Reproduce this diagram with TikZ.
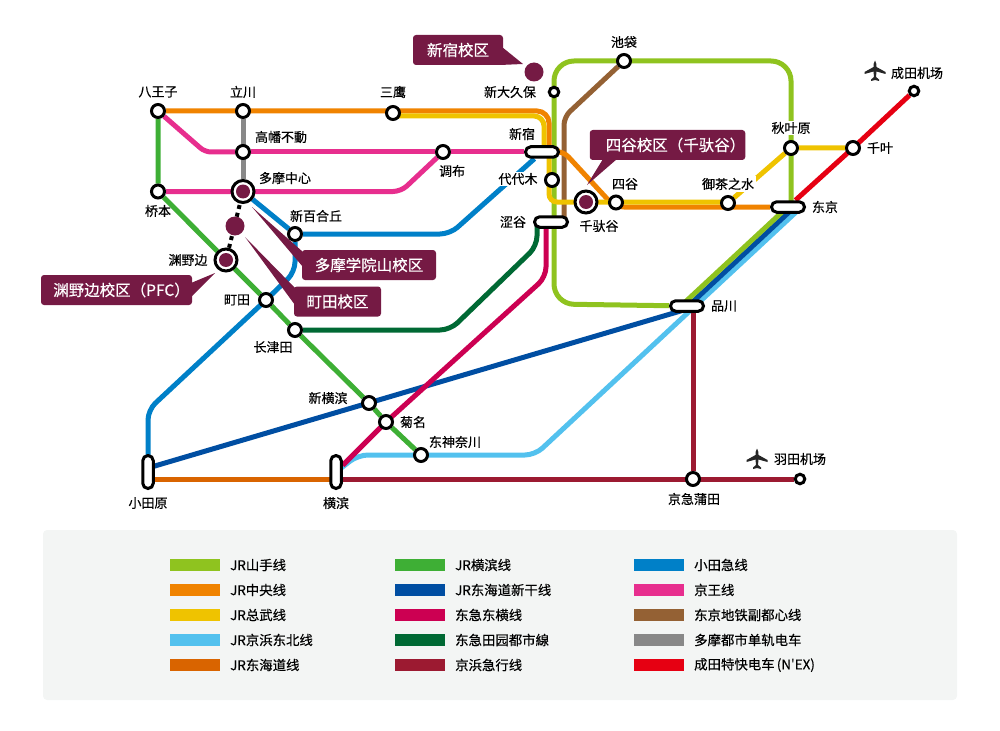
\documentclass[tikz,border=0pt]{standalone}
\usepackage{fontspec}
\setmainfont[FakeBold=0.4]{Noto Sans CJK SC}
\newfontfamily\plainfam{Noto Sans CJK SC}
\usepackage{xcolor}
\usepackage{tikz}
\usetikzlibrary{positioning}
\definecolor{cYama}{HTML}{8FC31F}
\definecolor{cChuo}{HTML}{F08300}
\definecolor{cSobu}{HTML}{EFC300}
\definecolor{cKeihin}{HTML}{53C1EE}
\definecolor{cTokai}{HTML}{D96400}
\definecolor{cYoko}{HTML}{3EAF35}
\definecolor{cShin}{HTML}{004EA2}
\definecolor{cToyo}{HTML}{CC0052}
\definecolor{cDen}{HTML}{006934}
\definecolor{cKeikyu}{HTML}{9C1A31}
\definecolor{cOda}{HTML}{0080C8}
\definecolor{cKeio}{HTML}{E72E8E}
\definecolor{cFuku}{HTML}{946134}
\definecolor{cMono}{HTML}{888888}
\definecolor{cNex}{HTML}{E60012}
\definecolor{cCampus}{HTML}{751A44}
\definecolor{cPanel}{HTML}{F3F5F4}
\pgfdeclarelayer{lines}
\pgfsetlayers{lines,main}
\tikzset{
	stn/.style={circle, draw=black, fill=white, line width=3pt, inner sep=0pt, minimum size=13pt},
	stnsmall/.style={circle, draw=black, fill=white, line width=3pt, inner sep=0pt, minimum size=9.5pt},
	stnbig/.style={circle, draw=black, fill=white, line width=3pt, inner sep=0pt, minimum size=22pt},
	pillh/.style={rectangle, rounded corners=5.2pt, draw=black, fill=white, line width=3pt, inner sep=0pt, minimum width=33pt, minimum height=10.5pt},
	pillv/.style={rectangle, rounded corners=5.2pt, draw=black, fill=white, line width=3pt, inner sep=0pt, minimum width=10.5pt, minimum height=33pt},
	campdot/.style={circle, fill=cCampus, inner sep=0pt},
	lbl/.style={inner sep=0pt, text=black, font=\fontsize{13}{13}\selectfont},
	lblw/.style={lbl, fill=white, inner sep=1.5pt},
	campbox/.style={rectangle, rounded corners=3pt, fill=cCampus, text=white, inner sep=0pt, font=\fontsize{15.5}{15.5}\selectfont},
	line/.style={line width=5pt},
	swatch/.style={rectangle, inner sep=0pt, minimum width=50pt, minimum height=12pt},
	keytxt/.style={anchor=west, inner sep=0pt, text=black, font=\fontsize{13.4}{13.4}\selectfont},
	plane/.pic={
		\fill[fill=black!85] (0,-10.5) .. controls (1.6,-8) and (1.5,-6) .. (1.5,-4) -- (10.5,1) -- (10.5,3) -- (1.5,0.5) -- (1,6) -- (4,8.5) -- (4,10) -- (0,9) -- (-4,10) -- (-4,8.5) -- (-1,6) -- (-1.5,0.5) -- (-10.5,3) -- (-10.5,1) -- (-1.5,-4) .. controls (-1.5,-6) and (-1.6,-8) .. (0,-10.5) -- cycle;
	}
}

\begin{document}
\begin{tikzpicture}[x=1pt, y=-1pt]
	\useasboundingbox (0,0) rectangle (1000,730);
	%stations
	\node[stn] at (158,111) (hachi) {};
	\node[stn] at (243,111) (tachi) {};
	\node[stn] at (393,113) (mitaka) {};
	\node[stn] at (243,152) (takahata) {};
	\node[stn] at (443,152) (chofu) {};
	\node[stn] at (158,191.5) (hashi) {};
	\node[stnbig] at (243,191.5) (tama) {};
	\node[stn] at (295,234) (yuri) {};
	\node[stnbig] at (226,260) (fuchi) {};
	\node[stn] at (266,300) (machi) {};
	\node[stn] at (295,330) (naga) {};
	\node[stn] at (369,403) (shinyoko) {};
	\node[stn] at (386,422) (kiku) {};
	\node[stn] at (421,455) (higashi) {};
	\node[stn] at (693,479) (kamata) {};
	\node[stnsmall] at (800,479) (haneda) {};
	\node[stn] at (853,148) (chiba) {};
	\node[stnsmall] at (914,91) (narita) {};
	\node[stn] at (791,148) (akiha) {};
	\node[stn] at (728,203) (ocha) {};
	\node[stn] at (616,202.5) (yotsu) {};
	\node[stnbig] at (586,202) (sendaga) {};
	\node[stn] at (552,180) (yoyogi) {};
	\node[stnsmall] at (554,92) (okubo) {};
	\node[stn] at (624,61) (ike) {};
	\node[pillv] at (148,472) (odawara) {};
	\node[pillv] at (336,472) (yokohama) {};
	\node[pillh] at (542,152) (shinjuku) {};
	\node[pillh] at (551,222) (shibuya) {};
	\node[pillh] at (788,207) (tokyo) {};
	\node[pillh] at (687,306) (shinagawa) {};
	
	\node[campdot, minimum size=14pt] at (tama) (tamadot) {};
	\node[campdot, minimum size=14pt] at (fuchi) (fuchidot) {};
	\node[campdot, minimum size=14pt] at (sendaga) (sendot) {};
	\node[campdot, minimum size=19pt] at (235,226) (machidot) {};
	\node[campdot, minimum size=19pt] at (534,72) (shindot) {};
	
	%bends
	\coordinate (ymA) at (791,207);
	\coordinate (ymB) at (791,61);
	\coordinate (ymC) at (554,61);
	\coordinate (ymD) at (554,304);
	\coordinate (ymE) at (682,305);
	\coordinate (ymF) at (787.5,207);
	\coordinate (chA) at (549,111);
	\coordinate (chB) at (549,152);
	\coordinate (chC) at (563,151);
	\coordinate (chD) at (611,203);
	\coordinate (chE) at (616,207);
	\coordinate (soA) at (393,116);
	\coordinate (soB) at (544,116);
	\coordinate (soC) at (544,152);
	\coordinate (soD) at (549,152);
	\coordinate (soE) at (549,202);
	\coordinate (soF) at (728,202);
	\coordinate (kbA) at (336,472);
	\coordinate (kbB) at (358,455);
	\coordinate (kbC) at (535,455);
	\coordinate (kbD) at (801.5,207);
	\coordinate (snA) at (794.5,207);
	\coordinate (snB) at (684,310);
	\coordinate (snC) at (148,468);
	\coordinate (toA) at (546,222);
	\coordinate (toB) at (546,277);
	\coordinate (deA) at (537,222);
	\coordinate (deB) at (537,246);
	\coordinate (deC) at (450,330);
	\coordinate (fuA) at (564,117);
	\coordinate (fuB) at (564,222);
	\coordinate (odA) at (450,234);
	\coordinate (odB) at (295,272);
	\coordinate (odC) at (148,410);
	\coordinate (odD) at (148,472);
	\coordinate (keA) at (205,152);
	\coordinate (keB) at (401,191.5);
	\coordinate (kkA) at (693,306);
	\coordinate (ttA) at (148,479);
	\coordinate (ttB) at (336,479);
	
	%lines
	\begin{pgfonlayer}{lines}
		\draw[line, cFuku, rounded corners=8pt] (ike) -- (fuA) -- (fuB);
		\draw[line, cYama, rounded corners=20pt] (ymA) -- (ymB) -- (ymC) -- (ymD) -- (shinagawa);
		\draw[line, cKeihin, rounded corners=10pt] (kbA) -- (kbB) -- (kbC) -- (kbD);
		\draw[line, cShin] (snA) -- (snB) -- (snC);
		\draw[line, cYama] (ymF) -- (ymE);
		\draw[line, cMono] (tachi) -- (tama);
		\draw[line, cYoko] (hachi) -- (hashi) -- (fuchi) -- (machi) -- (naga) -- (shinyoko) -- (kiku) -- (higashi);
		\draw[line, cOda] (tama) -- (yuri);
		\draw[line, cOda, rounded corners=10pt] (shinjuku) -- (odA) -- (yuri);
		\draw[line, cOda, rounded corners=10pt] (yuri) -- (odB) -- (machi.center) -- (odC) -- (odD);
		\draw[line, cKeio, rounded corners=6pt] (hachi) -- (keA) -- (takahata);
		\draw[line, cKeio] (takahata) -- (chofu) -- (shinjuku);
		\draw[line, cKeio, rounded corners=8pt] (hashi) -- (keB) -- (chofu);
		\draw[line, cDen, rounded corners=10pt] (deA) -- (deB) -- (deC) -- (naga);
		\draw[line, cToyo, rounded corners=10pt] (toA) -- (toB) -- (kiku.center) -- (yokohama);
		\draw[line, cTokai] (ttA) -- (ttB);
		\draw[line, cKeikyu] (ttB) -- (kamata.center) -- (haneda);
		\draw[line, cKeikyu] (kkA) -- (kamata);
		\draw[line, cNex] (tokyo) -- (chiba.center) -- (narita);
		\draw[line, cChuo, rounded corners=12pt] (hachi) -- (chA) -- (chB);
		\draw[line, cSobu, rounded corners=10pt] (soA) -- (soB) -- (soC);
		\draw[line, cChuo, rounded corners=8pt] (shinjuku) -- (chC) -- (chD) -- (chE) -- (tokyo);
		\draw[line, cSobu, rounded corners=8pt] (soD) -- (soE) -- (soF);
		\draw[line, cSobu] (ocha) -- (akiha) -- (chiba);
		\draw[line width=4pt, black, dash pattern=on 4pt off 4pt, dash phase=6.5pt] (tama) -- (fuchi);
	\end{pgfonlayer}
	
	%station labels
	\node[lbl] at (158,92) (tHachi) {八王子};
	\node[lbl] at (243,92) (tTachi) {立川};
	\node[lbl] at (393,92) (tMitaka) {三鹰};
	\node[lbl] at (281,137) (tTaka) {高幡不動};
	\node[lbl] at (452,171) (tChofu) {调布};
	\node[lbl] at (285,178) (tTama) {多摩中心};
	\node[lbl] at (158,211) (tHashi) {桥本};
	\node[lbl] at (316,216) (tYuri) {新百合丘};
	\node[lbl] at (188,260) (tFuchi) {渊野边};
	\node[lbl] at (237,300) (tMachi) {町田};
	\node[lbl] at (273,347) (tNaga) {长津田};
	\node[lbl] at (328,398) (tShinyoko) {新横滨};
	\node[lbl] at (413,422) (tKiku) {菊名};
	\node[lbl] at (455,442) (tHigashi) {东神奈川};
	\node[lbl] at (148,503) (tOdawara) {小田原};
	\node[lbl] at (336,503) (tYokohama) {横滨};
	\node[lbl] at (694,499) (tKamata) {京急蒲田};
	\node[lbl] at (800,459) (tHaneda) {羽田机场};
	\node[lbl] at (724,306) (tShinagawa) {品川};
	\node[lbl] at (825,207) (tTokyo) {东京};
	\node[lbl] at (880,148) (tChiba) {千叶};
	\node[lbl] at (917,73) (tNarita) {成田机场};
	\node[lblw] at (791,128) (tAkiha) {秋叶原};
	\node[lblw] at (728,184) (tOcha) {御茶之水};
	\node[lbl] at (625,184) (tYotsu) {四谷};
	\node[lbl] at (599,226) (tSenda) {千驮谷};
	\node[lblw] at (518,179) (tYoyogi) {代代木};
	\node[lbl] at (522,134) (tShinjuku) {新宿};
	\node[lbl] at (513,222) (tShibuya) {涩谷};
	\node[lbl] at (510,92) (tOkubo) {新大久保};
	\node[lbl] at (624,42) (tIke) {池袋};
	
	\pic at (875,71) {plane};
	\pic at (757,459) {plane};
	
	%campus boxes
	\fill[cCampus] (502,47) -- (523,64) -- (500,65) -- cycle;
	\fill[cCampus] (603,159) -- (617,159) -- (587,185) -- cycle;
	\fill[cCampus] (252,207) -- (303,252) -- (303,267) -- cycle;
	\fill[cCampus] (245,237) -- (295,288) -- (295,305) -- cycle;
	\fill[cCampus] (191,283) -- (215,273) -- (191,297) -- cycle;
	\node[campbox, minimum width=90pt, minimum height=30pt] at (458,50) (bShinjuku) {新宿校区};
	\node[campbox, minimum width=149pt, minimum height=30pt] at (667.5,145) (bYotsu) {\hspace{16pt}四谷校区（千驮谷）};
	\node[campbox, minimum width=134pt, minimum height=30pt] at (369,265) (bTama) {多摩学院山校区};
	\node[campbox, minimum width=87pt, minimum height=30pt] at (337.5,301.5) (bMachi) {町田校区};
	\node[campbox, minimum width=151pt, minimum height=30pt] at (116.5,290) (bFuchi) {\hspace{10pt}渊野边校区（PFC）};
	
	%legend
	\fill[cPanel, rounded corners=4pt] (43,530) rectangle (957,700);
	\node[swatch, fill=cYama] at (195,565) (k1) {};
	\node[keytxt] at (230,565) (x1) {JR山手线};
	\node[swatch, fill=cChuo] at (195,590) (k2) {};
	\node[keytxt] at (230,590) (x2) {JR中央线};
	\node[swatch, fill=cSobu] at (195,615) (k3) {};
	\node[keytxt] at (230,615) (x3) {JR总武线};
	\node[swatch, fill=cKeihin] at (195,640) (k4) {};
	\node[keytxt] at (230,640) (x4) {JR京浜东北线};
	\node[swatch, fill=cTokai] at (195,665) (k5) {};
	\node[keytxt] at (230,665) (x5) {JR东海道线};
	\node[swatch, fill=cYoko] at (420,565) (k6) {};
	\node[keytxt] at (455,565) (x6) {JR横滨线};
	\node[swatch, fill=cShin] at (420,590) (k7) {};
	\node[keytxt] at (455,590) (x7) {JR东海道新干线};
	\node[swatch, fill=cToyo] at (420,615) (k8) {};
	\node[keytxt] at (455,615) (x8) {东急东横线};
	\node[swatch, fill=cDen] at (420,640) (k9) {};
	\node[keytxt] at (455,640) (x9) {东急田园都市線};
	\node[swatch, fill=cKeikyu] at (420,665) (k10) {};
	\node[keytxt] at (455,665) (x10) {京浜急行线};
	\node[swatch, fill=cOda] at (659,565) (k11) {};
	\node[keytxt] at (694,565) (x11) {小田急线};
	\node[swatch, fill=cKeio] at (659,590) (k12) {};
	\node[keytxt] at (694,590) (x12) {京王线};
	\node[swatch, fill=cFuku] at (659,615) (k13) {};
	\node[keytxt] at (694,615) (x13) {东京地铁副都心线};
	\node[swatch, fill=cMono] at (659,640) (k14) {};
	\node[keytxt] at (694,640) (x14) {多摩都市单轨电车};
	\node[swatch, fill=cNex] at (659,665) (k15) {};
	\node[keytxt] at (694,665) (x15) {成田特快电车\,(N{\plainfam '}EX)};
\end{tikzpicture}
\end{document}
